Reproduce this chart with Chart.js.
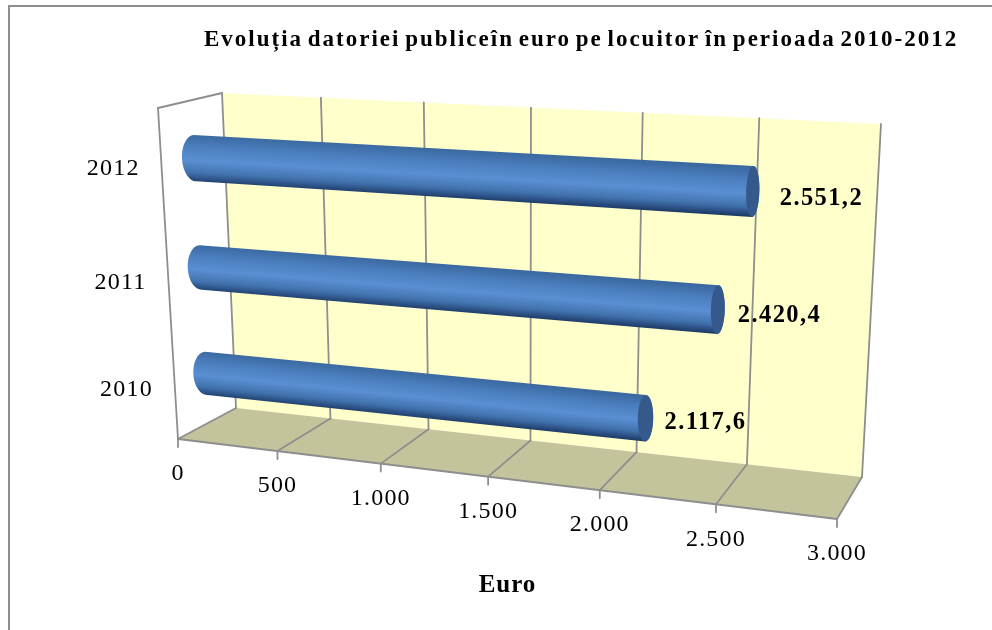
<!DOCTYPE html>
<html>
<head>
<meta charset="utf-8">
<title>Datoria publica</title>
<script src="https://cdn.jsdelivr.net/npm/chart.js@4/dist/chart.umd.min.js"></script>
<style>
  html, body { margin: 0; padding: 0; background: #fff; }
  canvas { display: block; }
</style>
</head>
<body>
<canvas id="myChart" width="992" height="630"></canvas>
<script>
const years = ['2012', '2011', '2010'];
const debtPerCapita = [2551.2, 2420.4, 2117.6];
const axisMax = 3000;
const axisStep = 500;
const chartTitle = 'Evoluția datoriei publiceîn euro pe locuitor în perioada 2010-2012';
const axisTitle = 'Euro';

const serif = '"Liberation Serif", "Times New Roman", serif';
const lineGrey = '#8e8e8e';

// unit square -> screen quad, corners given clockwise from top left
function quadMap(p0, p1, p2, p3) {
  const dx1 = p1[0] - p2[0], dx2 = p3[0] - p2[0], sx = p0[0] - p1[0] + p2[0] - p3[0];
  const dy1 = p1[1] - p2[1], dy2 = p3[1] - p2[1], sy = p0[1] - p1[1] + p2[1] - p3[1];
  const den = dx1 * dy2 - dx2 * dy1;
  const g = (sx * dy2 - dx2 * sy) / den;
  const h = (dx1 * sy - sx * dy1) / den;
  const a = p1[0] - p0[0] + g * p1[0], b = p3[0] - p0[0] + h * p3[0];
  const d = p1[1] - p0[1] + g * p1[1], e = p3[1] - p0[1] + h * p3[1];
  return (u, v) => {
    const q = g * u + h * v + 1;
    return [(a * u + b * v + p0[0]) / q, (d * u + e * v + p0[1]) / q];
  };
}

// the planes of the 3d box
const wall = quadMap([222, 93], [881, 124], [862, 477], [236, 408]);
const barPlane = quadMap([192, 102], [867, 135], [849, 497], [209, 425]);
const leftEdge = quadMap([158, 108], [222, 93], [236, 408], [178, 439]);
const frontLeft = [178, 439], frontRight = [837, 519];

// front edge of the floor has a weaker foreshortening than the wall
function front(u) {
  const k = 0.889;
  const f = k * u / (1 + (k - 1) * u);
  return [frontLeft[0] + (frontRight[0] - frontLeft[0]) * f, frontLeft[1] + (frontRight[1] - frontLeft[1]) * f];
}

// value labels sit a little differently next to each tube
const labelOffsets = [[27, 7], [20, 6], [19, 4]];

function fmtTick(v) {
  return String(v).replace(/\B(?=(\d{3})+$)/g, '.');
}
function fmtValue(v) {
  const parts = v.toFixed(1).split('.');
  return fmtTick(parts[0]) + ',' + parts[1];
}

function poly(ctx, pts, fill) {
  ctx.beginPath();
  pts.forEach((p, i) => i ? ctx.lineTo(p[0], p[1]) : ctx.moveTo(p[0], p[1]));
  ctx.closePath();
  ctx.fillStyle = fill;
  ctx.fill();
}
function line(ctx, a, b, width) {
  ctx.beginPath();
  ctx.moveTo(a[0], a[1]);
  ctx.lineTo(b[0], b[1]);
  ctx.lineWidth = width || 1.8;
  ctx.strokeStyle = lineGrey;
  ctx.stroke();
}
function text(ctx, str, x, y, font, align, spacing) {
  ctx.font = font;
  ctx.letterSpacing = spacing + 'px';
  ctx.wordSpacing = '0px';
  ctx.textAlign = align;
  ctx.textBaseline = 'middle';
  ctx.fillStyle = '#000';
  ctx.fillText(str, x, y);
}

// scale position -> 0..1 inside the chart area
function unitX(chart, px) {
  return (px - chart.chartArea.left) / chart.chartArea.width;
}
function unitY(chart, py) {
  return (py - chart.chartArea.top) / chart.chartArea.height;
}

function drawBox(chart) {
  const ctx = chart.ctx;
  const xs = chart.scales.x;
  ctx.save();
  ctx.lineCap = 'round';

  // outer frame, only top and left are in view
  line(ctx, [9, 6], [992, 6], 2);
  line(ctx, [9, 6], [9, 630], 2);

  poly(ctx, [wall(0, 0), wall(1, 0), wall(1, 1), wall(0, 1)], '#ffffcc');
  poly(ctx, [wall(0, 1), wall(1, 1), front(1), front(0)], '#c4c49c');

  line(ctx, leftEdge(0, 0), leftEdge(1, 0));
  line(ctx, leftEdge(0, 0), leftEdge(0, 1));

  xs.ticks.forEach((t) => {
    const u = unitX(chart, xs.getPixelForValue(t.value));
    const foot = front(u);
    line(ctx, wall(u, 0), wall(u, 1));
    line(ctx, wall(u, 1), foot);
    line(ctx, foot, [foot[0], foot[1] + 8]);
    text(ctx, t.label, foot[0], foot[1] + 35, '24px ' + serif, 'center', 1.2);
  });
  line(ctx, front(0), front(1));

  chart.scales.y.ticks.forEach((t, i) => {
    const w = unitY(chart, chart.scales.y.getPixelForValue(i));
    const p = leftEdge(0, w);
    text(ctx, t.label, p[0] - 22, p[1] + 2, '24px ' + serif, 'right', 1.2);
  });

  text(ctx, axisTitle, 507.5, 586, 'bold 25px ' + serif, 'center', 1);
  ctx.restore();
}

function drawCylinder(chart, el, value, i) {
  const ctx = chart.ctx;
  const bar = el.getProps(['x', 'y', 'base', 'height'], true);
  const u0 = unitX(chart, bar.base), u1 = unitX(chart, bar.x);
  const top = unitY(chart, bar.y - bar.height / 2), bot = unitY(chart, bar.y + bar.height / 2);
  const tl = barPlane(u0, top), bl = barPlane(u0, bot);
  const tr = barPlane(u1, top), br = barPlane(u1, bot);
  const mid = (a, b) => [(a[0] + b[0]) / 2, (a[1] + b[1]) / 2];
  const cl = mid(tl, bl), cr = mid(tr, br);
  const radL = Math.hypot(tl[0] - cl[0], tl[1] - cl[1]);
  const radR = Math.hypot(tr[0] - cr[0], tr[1] - cr[1]);
  const rotL = Math.atan2(tl[0] - cl[0], cl[1] - tl[1]);
  const rotR = Math.atan2(tr[0] - cr[0], cr[1] - tr[1]);
  // end caps look narrower towards the right of the box
  const capL = 13 - 7 * u0, capR = 13 - 7.5 * u1;

  // shading runs across the tube axis
  const len = Math.hypot(cr[0] - cl[0], cr[1] - cl[1]);
  const nx = -(cr[1] - cl[1]) / len, ny = (cr[0] - cl[0]) / len;
  const c = mid(cl, cr), r = (radL + radR) / 2;
  const grad = ctx.createLinearGradient(c[0] - nx * r, c[1] - ny * r, c[0] + nx * r, c[1] + ny * r);
  grad.addColorStop(0, '#3a689f');
  grad.addColorStop(0.25, '#4a7dbc');
  grad.addColorStop(0.55, '#5a8fd3');
  grad.addColorStop(0.8, '#4273ae');
  grad.addColorStop(0.93, '#2b5084');
  grad.addColorStop(1, '#1f3d69');

  ctx.beginPath();
  ctx.ellipse(cl[0], cl[1], capL, radL, rotL, -Math.PI / 2, Math.PI / 2, true);
  ctx.lineTo(br[0], br[1]);
  ctx.ellipse(cr[0], cr[1], capR, radR, rotR, Math.PI / 2, -Math.PI / 2, true);
  ctx.closePath();
  ctx.fillStyle = grad;
  ctx.fill();

  // flat end face
  ctx.beginPath();
  ctx.ellipse(cr[0], cr[1], capR, radR, rotR, 0, Math.PI * 2);
  ctx.fillStyle = '#35598a';
  ctx.fill();

  const off = labelOffsets[i];
  text(ctx, fmtValue(value), cr[0] + off[0], cr[1] + off[1], 'bold 24.5px ' + serif, 'left', 1.4);
}

const boxPlugin = {
  id: 'box3d',
  beforeDraw(chart) {
    chart.ctx.letterSpacing = '2px';
    chart.ctx.wordSpacing = '-3px';
  },
  beforeDatasetsDraw(chart) {
    drawBox(chart);
  },
  // the flat bars are replaced by tubes, geometry still comes from the bar elements
  beforeDatasetDraw(chart, args) {
    const ctx = chart.ctx;
    ctx.save();
    args.meta.data.forEach((el, i) => drawCylinder(chart, el, debtPerCapita[i], i));
    ctx.restore();
    return false;
  }
};

new Chart(document.getElementById('myChart').getContext('2d'), {
  type: 'bar',
  plugins: [boxPlugin],
  data: {
    labels: years,
    datasets: [{
      label: 'Euro',
      data: debtPerCapita,
      backgroundColor: '#5a90d6',
      categoryPercentage: 1,
      barPercentage: 0.415
    }]
  },
  options: {
    indexAxis: 'y',
    responsive: false,
    animation: false,
    devicePixelRatio: 1,
    layout: { padding: { left: 204, top: 26 } },
    plugins: {
      legend: { display: false },
      tooltip: { enabled: false },
      title: {
        display: true,
        text: chartTitle,
        align: 'start',
        color: '#000',
        font: { family: serif, size: 23, weight: 'bold' },
        padding: { top: 0, bottom: 10 }
      }
    },
    scales: {
      x: {
        display: false,
        min: 0,
        max: axisMax,
        ticks: { stepSize: axisStep, callback: (v) => fmtTick(v) }
      },
      y: { display: false }
    }
  }
});
</script>
</body>
</html>
